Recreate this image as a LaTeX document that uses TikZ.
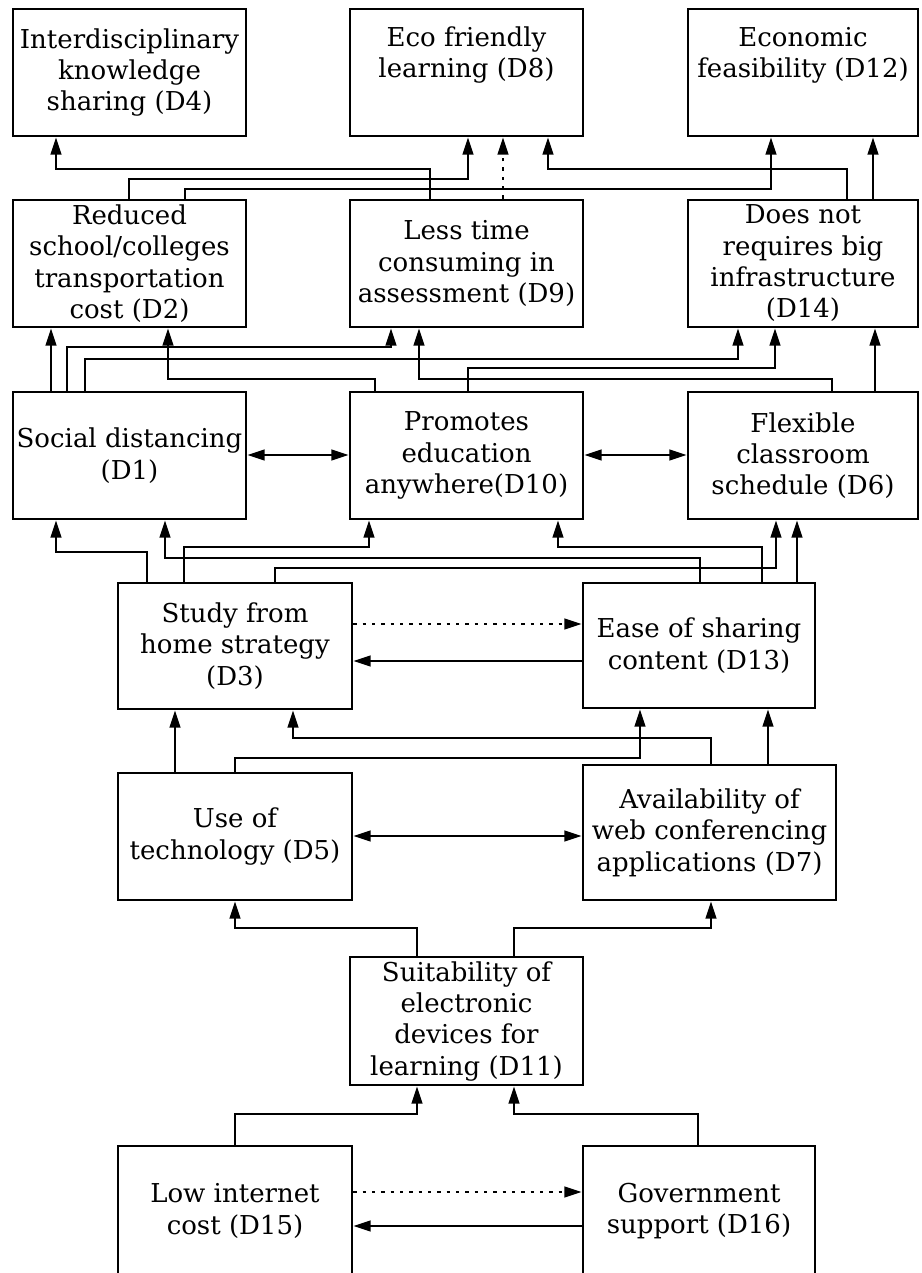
\documentclass[tikz,border=0pt]{standalone}
\usepackage{fontspec}
\setmainfont{DejaVu Serif}
\usetikzlibrary{arrows.meta}

\tikzset{
	dbox/.style={draw, line width=2pt, align=center, inner sep=0pt,
		font=\fontsize{19.5}{23.5}\selectfont},
	stdbox/.style={dbox, minimum width=174.75pt, minimum height=95.25pt},
	rgtbox/.style={dbox, minimum width=172.5pt, minimum height=95.25pt},
	arr/.style={-{Triangle[length=13pt,width=8pt]}},
	dbl/.style={{Triangle[length=13pt,width=8pt]}-{Triangle[length=13pt,width=8pt]}},
	dots/.style={arr, dash pattern=on 2.5pt off 4.5pt}}
\tikzset{every picture/.style={line width=1.7pt}}

\begin{document}
\begin{tikzpicture}[x=0.75pt,y=0.75pt,yscale=-1,xscale=1]
	\useasboundingbox (0,0) rectangle (921,1273);

	%Shape: Rectangle [top row]
	\node [stdbox] (d4) at (129.5,72.5) {Interdisciplinary\\knowledge\\sharing (D4)};
	\node [stdbox] (d8) at (466.5,72.5) {Eco friendly\\learning (D8)\\\strut};
	\node [rgtbox] (d12) at (803,72.5) {Economic\\feasibility (D12)\\\strut};
	%Shape: Rectangle [second row]
	\node [stdbox] (d2) at (129.5,263.5) {Reduced\\school/colleges\\transportation\\cost (D2)};
	\node [stdbox] (d9) at (466.5,263.5) {Less time\\consuming in\\assessment (D9)};
	\node [rgtbox] (d14) at (803,263.5) {Does not\\requires big\\infrastructure\\(D14)};
	%Shape: Rectangle [third row]
	\node [stdbox] (d1) at (129.5,455.5) {Social distancing\\(D1)};
	\node [stdbox] (d10) at (466.5,455.5) {Promotes\\education\\anywhere(D10)};
	\node [rgtbox] (d6) at (803,455.5) {Flexible\\classroom\\schedule (D6)};
	%Shape: Rectangle [fourth row]
	\node [dbox, minimum width=175.5pt, minimum height=94.5pt] (d3) at (235,646) {Study from\\home strategy\\(D3)};
	\node [dbox, minimum width=174pt, minimum height=93.75pt] (d13) at (699,645.5) {Ease of sharing\\content (D13)};
	%Shape: Rectangle [fifth row]
	\node [dbox, minimum width=175.5pt, minimum height=95.25pt] (d5) at (235,836.5) {Use of\\technology (D5)};
	\node [dbox, minimum width=189.75pt, minimum height=101.25pt] (d7) at (709.5,832.5) {Availability of\\web conferencing\\applications (D7)};
	%Shape: Rectangle [sixth row]
	\node [stdbox, minimum height=96pt] (d11) at (466.5,1021) {Suitability of\\electronic\\devices for\\learning (D11)};
	%Shape: Rectangle [bottom row, cut by the page]
	\node [dbox, minimum width=175.5pt, minimum height=97.5pt] (d15) at (235,1211) {Low internet\\cost (D15)};
	\node [dbox, minimum width=174pt, minimum height=97.5pt] (d16) at (699,1211) {Government\\support (D16)};

	% second row -> top row
	\draw [arr] (d9.north -| 430,0) |- (56,169) -- (d4.south -| 56,0);
	\draw [arr] (d2.north -| 129,0) |- (468,179) -- (d8.south -| 468,0);
	\draw [dots] (d9.north -| 503,0) -- (d8.south -| 503,0);
	\draw [arr] (d14.north -| 847,0) |- (548,169) -- (d8.south -| 548,0);
	\draw [arr] (d2.north -| 185,0) |- (771,189) -- (d12.south -| 771,0);
	\draw [arr] (d14.north -| 873,0) -- (d12.south -| 873,0);

	% third row -> second row
	\draw [arr] (d1.north -| 51,0) -- (d2.south -| 51,0);
	\draw [arr] (d1.north -| 67,0) |- (391,347) -- (d9.south -| 391,0);
	\draw [arr] (d1.north -| 85,0) |- (738,359) -- (d14.south -| 738,0);
	\draw [arr] (d10.north -| 375,0) |- (168,379) -- (d2.south -| 168,0);
	\draw [arr] (d6.north -| 832,0) |- (419,379) -- (d9.south -| 419,0);
	\draw [arr] (d10.north -| 468,0) |- (775,368) -- (d14.south -| 775,0);
	\draw [arr] (d6.north -| 875,0) -- (d14.south -| 875,0);
	\draw [dbl] (d1.east |- 0,455) -- (d10.west |- 0,455);
	\draw [dbl] (d10.east |- 0,455) -- (d6.west |- 0,455);

	% fourth row -> third row
	\draw [arr] (d3.north -| 147,0) |- (56,552) -- (d1.south -| 56,0);
	\draw [arr] (d13.north -| 700,0) |- (165,558) -- (d1.south -| 165,0);
	\draw [arr] (d3.north -| 184,0) |- (369,547) -- (d10.south -| 369,0);
	\draw [arr] (d13.north -| 762,0) |- (558,547) -- (d10.south -| 558,0);
	\draw [arr] (d3.north -| 275,0) |- (776,568) -- (d6.south -| 776,0);
	\draw [arr] (d13.north -| 797,0) -- (d6.south -| 797,0);
	\draw [dots] (d3.east |- 0,624) -- (d13.west |- 0,624);
	\draw [arr] (d13.west |- 0,661) -- (d3.east |- 0,661);

	% fifth row -> fourth row
	\draw [arr] (d5.north -| 175,0) -- (d3.south -| 175,0);
	\draw [arr] (d7.north -| 711,0) |- (293,738) -- (d3.south -| 293,0);
	\draw [arr] (d5.north -| 235,0) |- (640,758) -- (d13.south -| 640,0);
	\draw [arr] (d7.north -| 768,0) -- (d13.south -| 768,0);
	\draw [dbl] (d5.east |- 0,836) -- (d7.west |- 0,836);

	% sixth row -> fifth row
	\draw [arr] (d11.north -| 417,0) |- (235,928) -- (d5.south -| 235,0);
	\draw [arr] (d11.north -| 514,0) |- (711,928) -- (d7.south -| 711,0);

	% bottom row -> sixth row
	\draw [arr] (d15.north -| 235,0) |- (417,1114) -- (d11.south -| 417,0);
	\draw [arr] (d16.north -| 698,0) |- (514,1114) -- (d11.south -| 514,0);
	\draw [dots] (d15.east |- 0,1192) -- (d16.west |- 0,1192);
	\draw [arr] (d16.west |- 0,1226) -- (d15.east |- 0,1226);

\end{tikzpicture}
\end{document}
